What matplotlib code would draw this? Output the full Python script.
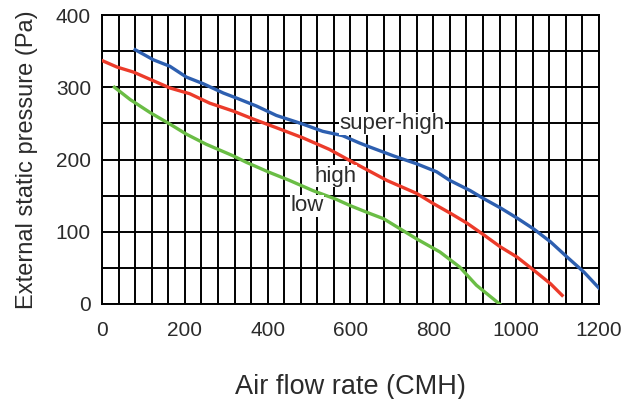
import numpy as np
import matplotlib
matplotlib.use("Agg")
import matplotlib.pyplot as plt

plt.rcParams['font.family'] = ['Liberation Sans', 'DejaVu Sans']

# fan curves: air flow (CMH) vs external static pressure (Pa)
sh_flow = [80, 124, 164, 204, 244, 293, 325, 373, 421, 485, 533, 581, 621, 648, 704,
           760, 808, 840, 889, 921, 962, 1002, 1042, 1083, 1123, 1164, 1200]
sh_pres = [352, 338, 329, 314, 305, 292, 285, 274, 261, 249, 239, 233, 223, 217, 205,
           194, 183, 171, 157, 146, 133, 119, 104, 86, 65, 44, 22]

hi_flow = [0, 36, 76, 116, 164, 212, 260, 317, 365, 421, 485, 549, 600, 688, 760,
           800, 840, 881, 921, 962, 1002, 1042, 1083, 1111]
hi_pres = [337, 328, 321, 311, 299, 291, 278, 267, 256, 244, 230, 214, 198, 171, 153,
           139, 126, 112, 96, 79, 65, 47, 28, 12]

lo_flow = [30, 68, 116, 164, 204, 252, 317, 349, 405, 453, 509, 565, 600, 648, 680,
           720, 760, 816, 864, 904, 960]
lo_pres = [300, 283, 265, 249, 235, 221, 205, 196, 182, 171, 157, 145, 136, 125, 118,
           104, 90, 72, 51, 26, 0]

x_ticks = [0, 200, 400, 600, 800, 1000, 1200]
y_ticks = [0, 100, 200, 300, 400]

txt = '#2b2b2b'

fig = plt.figure(figsize=(6.28, 3.99), dpi=100)
ax = fig.add_axes([0.1624, 0.2381, 0.7914, 0.7243])

# dense grid: every 40 CMH and every 50 Pa
for gx in np.arange(0, 1201, 40):
    ax.axvline(gx, color='black', lw=1.4, zorder=1)
for gy in np.arange(0, 401, 50):
    ax.axhline(gy, color='black', lw=1.4, zorder=1)

ax.plot(sh_flow, sh_pres, color='#2d5fb0', lw=2.4, zorder=3, solid_joinstyle='round')
ax.plot(hi_flow, hi_pres, color='#ec3b2a', lw=2.4, zorder=3, solid_joinstyle='round')
ax.plot(lo_flow, lo_pres, color='#6abd45', lw=2.4, zorder=3, solid_joinstyle='round')

box = dict(facecolor='white', edgecolor='none', pad=0.5)
ax.text(700, 250, 'super-high', fontsize=16, color=txt, ha='center', va='center', bbox=box, zorder=4)
ax.text(563, 177, 'high', fontsize=16, color=txt, ha='center', va='center', bbox=box, zorder=4)
ax.text(495, 136, 'low', fontsize=16, color=txt, ha='center', va='center', bbox=box, zorder=4)

ax.set_xlim(0, 1200)
ax.set_ylim(0, 400)
ax.set_xticks(x_ticks)
ax.set_yticks(y_ticks)
ax.tick_params(length=0, labelsize=15, labelcolor=txt)
ax.tick_params(axis='x', pad=12)
ax.tick_params(axis='y', pad=8)
for s in ax.spines.values():
    s.set_linewidth(1.4)
    s.set_color('black')

ax.set_xlabel('Air flow rate (CMH)', fontsize=19.5, color=txt, labelpad=25)
ax.set_ylabel('External static pressure (Pa)', fontsize=17, color=txt, labelpad=13)

fig.savefig('out.png', dpi=100)
